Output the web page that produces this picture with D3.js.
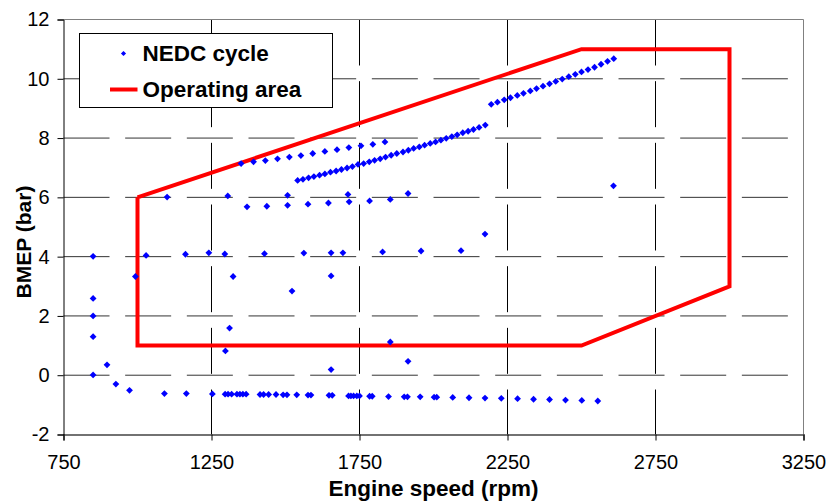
<!DOCTYPE html>
<html>
<head>
<meta charset="utf-8">
<script src="https://cdn.jsdelivr.net/npm/d3@7"></script>
<style>
  html, body { margin: 0; padding: 0; background: #fff; }
  svg { display: block; font-family: "Liberation Sans", Arial, sans-serif; }
</style>
</head>
<body>
<svg id="chart" width="828" height="503"></svg>
<script>
// ---------------- DATA ----------------
const xTicks = [750, 1250, 1750, 2250, 2750, 3250];
const yTicks = [-2, 0, 2, 4, 6, 8, 10, 12];

// NEDC cycle operating points [engine speed (rpm), BMEP (bar)]
const idlePoints = [[850, 4.01], [850, 2.59], [850, 2.0], [850, 1.30], [850, 0.01]];
const motoringPoints = [
  [897, 0.35], [927, -0.30], [973, -0.51], [1091, -0.62], [1165, -0.62],
  [1253, -0.63], [1296, -0.64], [1306, -0.64], [1318, -0.64], [1336, -0.64],
  [1346, -0.64], [1356, -0.64], [1367, -0.64], [1414, -0.65], [1426, -0.65],
  [1443, -0.65], [1468, -0.65], [1492, -0.66], [1505, -0.66], [1538, -0.66],
  [1576, -0.67], [1586, -0.67], [1647, -0.68], [1658, -0.68], [1713, -0.70],
  [1721, -0.70], [1730, -0.70], [1741, -0.70], [1750, -0.70], [1784, -0.71],
  [1793, -0.71], [1848, -0.72], [1901, -0.73], [1912, -0.73], [1955, -0.73],
  [2002, -0.74], [2011, -0.74], [2065, -0.75], [2120, -0.76], [2174, -0.77],
  [2229, -0.78], [2284, -0.79], [2338, -0.81], [2392, -0.82], [2446, -0.84],
  [2501, -0.85], [2555, -0.87]
];
const transientPoints = [
  [993, 3.33], [1297, 0.82], [1311, 1.59], [1323, 3.33], [1522, 2.84],
  [1654, 3.35], [1654, 0.19], [1854, 1.12], [1914, 0.47], [2174, 4.76], [2608, 6.39]
];
const fourBarPoints = [
  [1029, 4.04], [1162, 4.08], [1241, 4.13], [1295, 4.09], [1429, 4.10],
  [1562, 4.12], [1654, 4.13], [1694, 4.13], [1828, 4.16], [1958, 4.19], [2093, 4.20]
];
const sixBarPoints = [
  [1100, 6.01], [1305, 6.05], [1507, 6.07], [1711, 6.10], [1914, 6.13],
  [1370, 5.68], [1437, 5.70], [1507, 5.73], [1576, 5.77], [1645, 5.81],
  [1715, 5.85], [1784, 5.88], [1854, 5.93]
];
const upperRampPoints = [
  [1350, 7.14], [1392, 7.20], [1432, 7.24], [1473, 7.30], [1513, 7.36],
  [1552, 7.41], [1592, 7.48], [1633, 7.55], [1674, 7.61], [1714, 7.68],
  [1755, 7.74], [1795, 7.79], [1836, 7.87]
];
const middleRampPoints = [
  [1541, 6.57], [1559, 6.61], [1578, 6.66], [1596, 6.70], [1615, 6.75],
  [1633, 6.79], [1652, 6.85], [1671, 6.89], [1689, 6.94], [1708, 6.99],
  [1726, 7.04], [1745, 7.11], [1764, 7.14], [1783, 7.20], [1801, 7.25],
  [1820, 7.30], [1838, 7.36], [1857, 7.42], [1876, 7.48], [1897, 7.53],
  [1915, 7.59], [1933, 7.65], [1952, 7.70], [1970, 7.76], [1989, 7.82],
  [2007, 7.87], [2025, 7.93], [2043, 7.99], [2062, 8.05], [2080, 8.11],
  [2099, 8.18], [2117, 8.23], [2135, 8.29], [2154, 8.36], [2175, 8.44]
];
const highRampPoints = [
  [2195, 9.14], [2216, 9.21], [2239, 9.29], [2260, 9.36], [2283, 9.44],
  [2304, 9.51], [2327, 9.59], [2348, 9.67], [2370, 9.75], [2392, 9.83],
  [2413, 9.91], [2435, 9.99], [2457, 10.07], [2479, 10.15], [2500, 10.23],
  [2522, 10.31], [2544, 10.39], [2566, 10.49], [2588, 10.59], [2609, 10.68]
];

// Operating area boundary
const areaSpeed = [1000, 2500, 3000, 3000, 2500, 1000, 1000];
const areaBmep  = [6, 11, 11, 3, 1, 1, 6];

const legendLabels = ["NEDC cycle", "Operating area"];
const xTitle = "Engine speed (rpm)";
const yTitle = "BMEP (bar)";

// ---------------- DRAWING ----------------
const svg = d3.select("#chart");
const L = 63.5, R = 803.5, T = 19.5, B = 434.5;
const x = d3.scaleLinear().domain([750, 3250]).range([L, R]);
const y = d3.scaleLinear().domain([-2, 12]).range([B, T]);

const dash = "46,15.67";
// horizontal gridlines
svg.append("g").selectAll("line")
  .data(yTicks.filter(v => v > -2 && v < 12)).join("line")
  .attr("x1", L).attr("x2", R)
  .attr("y1", d => y(d)).attr("y2", d => y(d))
  .attr("stroke", "#333").attr("stroke-width", 1)
  .attr("stroke-dasharray", dash);
// vertical gridlines
svg.append("g").selectAll("line")
  .data(xTicks.filter(v => v > 750 && v < 3250)).join("line")
  .attr("x1", d => x(d)).attr("x2", d => x(d))
  .attr("y1", T).attr("y2", B)
  .attr("stroke", "#000").attr("stroke-width", 1)
  .attr("stroke-dasharray", dash);

// plot border (top / right grey)
svg.append("path")
  .attr("d", `M${L},${T}H${R}V${B}`)
  .attr("fill", "none").attr("stroke", "#808080").attr("stroke-width", 1);

// axes
const fmt = d => String(d);
const xAxis = d3.axisBottom(x).tickValues(xTicks).tickSize(6).tickPadding(6).tickFormat(fmt);
const yAxis = d3.axisLeft(y).tickValues(yTicks).tickSize(6).tickPadding(8).tickFormat(fmt);
const gx = svg.append("g").attr("transform", `translate(0,${B})`).call(xAxis);
const gy = svg.append("g").attr("transform", `translate(${L},0)`).call(yAxis);
[gx, gy].forEach(g => {
  g.select(".domain").attr("stroke", "#000").attr("stroke-width", 1);
  g.selectAll(".tick line").attr("stroke", "#000");
  g.selectAll("text").attr("font-size", 20).attr("fill", "#000")
    .attr("font-family", "'Liberation Sans', Arial, sans-serif");
});
gx.select(".domain").attr("stroke", "#444").attr("stroke-width", 1.5);
gx.selectAll("text").attr("dy", "0.71em").attr("y", 20);

// operating area polygon
const areaPts = areaSpeed.map((s, i) => [s, areaBmep[i]]);
svg.append("path")
  .datum(areaPts)
  .attr("d", d3.line().x(d => x(d[0])).y(d => y(d[1])))
  .attr("fill", "none").attr("stroke", "#ff0000").attr("stroke-width", 4)
  .attr("stroke-linejoin", "miter");

// NEDC points
const allPoints = [].concat(idlePoints, motoringPoints, transientPoints, fourBarPoints,
  sixBarPoints, upperRampPoints, middleRampPoints, highRampPoints);
const diamond = r => `M0,${-r}L${r},0L0,${r}L${-r},0Z`;
svg.append("g").selectAll("path")
  .data(allPoints).join("path")
  .attr("transform", d => `translate(${x(d[0])},${y(d[1])})`)
  .attr("d", diamond(3.4))
  .attr("fill", "#0000ff");

// legend
const lg = svg.append("g");
lg.append("rect").attr("x", 79.5).attr("y", 33.5).attr("width", 253).attr("height", 74)
  .attr("fill", "#fff").attr("stroke", "#000").attr("stroke-width", 1);
lg.append("path").attr("transform", "translate(123.5,53.5)").attr("d", diamond(2.6)).attr("fill", "#0000ff");
lg.append("line").attr("x1", 110).attr("x2", 137.5).attr("y1", 89.5).attr("y2", 89.5)
  .attr("stroke", "#ff0000").attr("stroke-width", 4);
lg.selectAll("text").data(legendLabels).join("text")
  .attr("x", 142.5).attr("y", (d, i) => i === 0 ? 60.8 : 97)
  .attr("font-size", 22.5).attr("font-weight", "bold").attr("fill", "#000")
  .text(d => d);

// axis titles
svg.append("text").attr("x", (L + R) / 2).attr("y", 496)
  .attr("text-anchor", "middle").attr("font-size", 22.5).attr("font-weight", "bold")
  .text(xTitle);
svg.append("text").attr("transform", "translate(31,242) rotate(-90)")
  .attr("text-anchor", "middle").attr("font-size", 21).attr("font-weight", "bold")
  .text(yTitle);
</script>
</body>
</html>
